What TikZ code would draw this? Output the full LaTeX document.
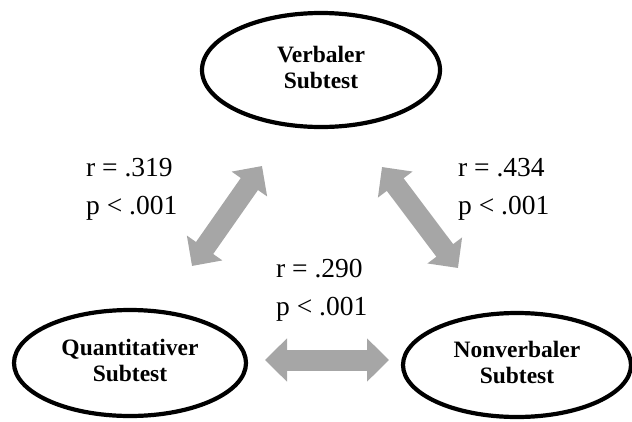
\documentclass[tikz,border=0pt]{standalone}
\usepackage{fontspec}
\setmainfont{Liberation Serif}
\usetikzlibrary{arrows.meta,shapes.geometric}
\definecolor{arrowgray}{HTML}{A6A6A6}
\newcommand{\twolines}[3]{\raisebox{#3}{\begin{tabular}{@{}c@{}}#1\\#2\end{tabular}}}
\tikzset{
  var/.style={draw=black, line width=4.2pt, ellipse, inner sep=0pt,
    font=\fontsize{23.5}{26}\selectfont\bfseries},
  corr/.style={line width=21pt, draw=arrowgray,
    {Triangle[width=42pt,length=22pt]}-{Triangle[width=42pt,length=22pt]}},
  stat/.style={align=left, anchor=west, font=\fontsize{27.5}{38}\selectfont, inner sep=0pt}
}
\begin{document}
\begin{tikzpicture}[x=1pt,y=-1pt]
\useasboundingbox (0,0) rectangle (632,421);
\node[var, minimum width=238pt, minimum height=114pt] (verb) at (321,70) {\twolines{Verbaler}{Subtest}{-4pt}};
\node[var, minimum width=232pt, minimum height=106pt] (quant) at (130,363) {\twolines{Quantitativer}{Subtest}{0pt}};
\node[var, minimum width=228pt, minimum height=104pt] (nonv) at (517,365) {\twolines{Nonverbaler}{Subtest}{0pt}};
\coordinate (l1) at (192,266);
\coordinate (l2) at (262,166);
\coordinate (r1) at (382,167);
\coordinate (r2) at (458,268);
\coordinate (h1) at (265,360);
\coordinate (h2) at (389,360);
\draw[corr] (l1) -- (l2);
\draw[corr] (r1) -- (r2);
\draw[corr] (h1) -- (h2);
\node[stat] (s1) at (86,189) {r = .319\\p < .001};
\node[stat] (s2) at (458,189) {r = .434\\p < .001};
\node[stat] (s3) at (276,290) {r = .290\\p < .001};
\end{tikzpicture}
\end{document}
